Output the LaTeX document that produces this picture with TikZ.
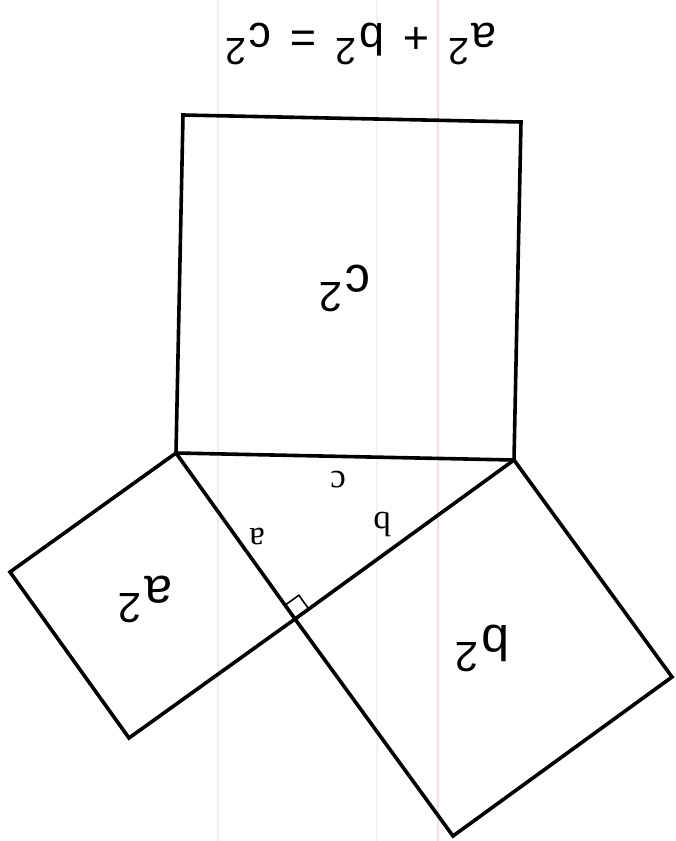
\documentclass[tikz,border=0pt]{standalone}
\usepackage{fontspec}
\usepackage{graphicx}
\setmainfont{Liberation Sans}
\newfontfamily\serifface{Liberation Serif}
\usetikzlibrary{calc}
\definecolor{ruleg}{RGB}{238,238,236}
\definecolor{rulep}{RGB}{245,225,228}
\newcommand\sqtwo{\kern0.06em\raisebox{0.34em}{\scalebox{0.84}{2}}}
\newcommand\gap{\hspace{0.42em}}
\tikzset{
  edge/.style={line width=3.6pt, line join=miter, black},
  biglabel/.style={rotate=180, font=\fontsize{50}{50}\selectfont, inner sep=0pt},
  formula/.style={rotate=180, font=\fontsize{45}{45}\selectfont, inner sep=0pt},
  sidelabel/.style={rotate=180, font=\serifface\fontsize{35}{35}\selectfont, inner sep=0pt},
  paperrule/.style={line width=1.2pt}
}
\begin{document}
\begin{tikzpicture}[x=1pt,y=-1pt]
\useasboundingbox (0,0) rectangle (675,841);
\fill[white] (0,0) rectangle (675,841);
% faint paper rulings
\draw[paperrule, ruleg] (218,0) -- (218,841);
\draw[paperrule, ruleg!70] (377,0) -- (377,841);
\draw[paperrule, rulep] (438,0) -- (438,841);
% triangle vertices
\coordinate (A) at (176,453);
\coordinate (B) at (514,460);
\coordinate (C) at (295,619);
% square on hypotenuse
\coordinate (A2) at ($(A)+(7,-338)$);
\coordinate (B2) at ($(B)+(7,-338)$);
% square on side a
\coordinate (A3) at ($(A)+(-166,119)$);
\coordinate (C3) at ($(C)+(-166,119)$);
% square on side b
\coordinate (B4) at ($(B)+(158,217)$);
\coordinate (C4) at ($(C)+(158,217)$);
\draw[edge] (A) -- (B) -- (B2) -- (A2) -- cycle;
\draw[edge] (A) -- (C) -- (C3) -- (A3) -- cycle;
\draw[edge] (B) -- (C) -- (C4) -- (B4) -- cycle;
% right angle mark
\coordinate (R1) at ($(C)!17pt!(A)$);
\coordinate (R2) at ($(C)!17pt!(B)$);
\draw[line width=1.6pt] (R1) -- ($(R1)+(R2)-(C)$) -- (R2);
% labels
\node[formula] (eq) at (361,44) {a\sqtwo\gap+\gap b\sqtwo\gap=\gap c\sqtwo};
\node[biglabel] (lc) at (345,288) {c\sqtwo};
\node[biglabel] (la) at (145,599) {a\sqtwo};
\node[biglabel] (lb) at (482,648) {b\sqtwo};
\node[sidelabel] (sc) at (338,480) {c};
\node[sidelabel] (sa) at (257,537) {a};
\node[sidelabel] (sb) at (382,524) {b};
\end{tikzpicture}
\end{document}
